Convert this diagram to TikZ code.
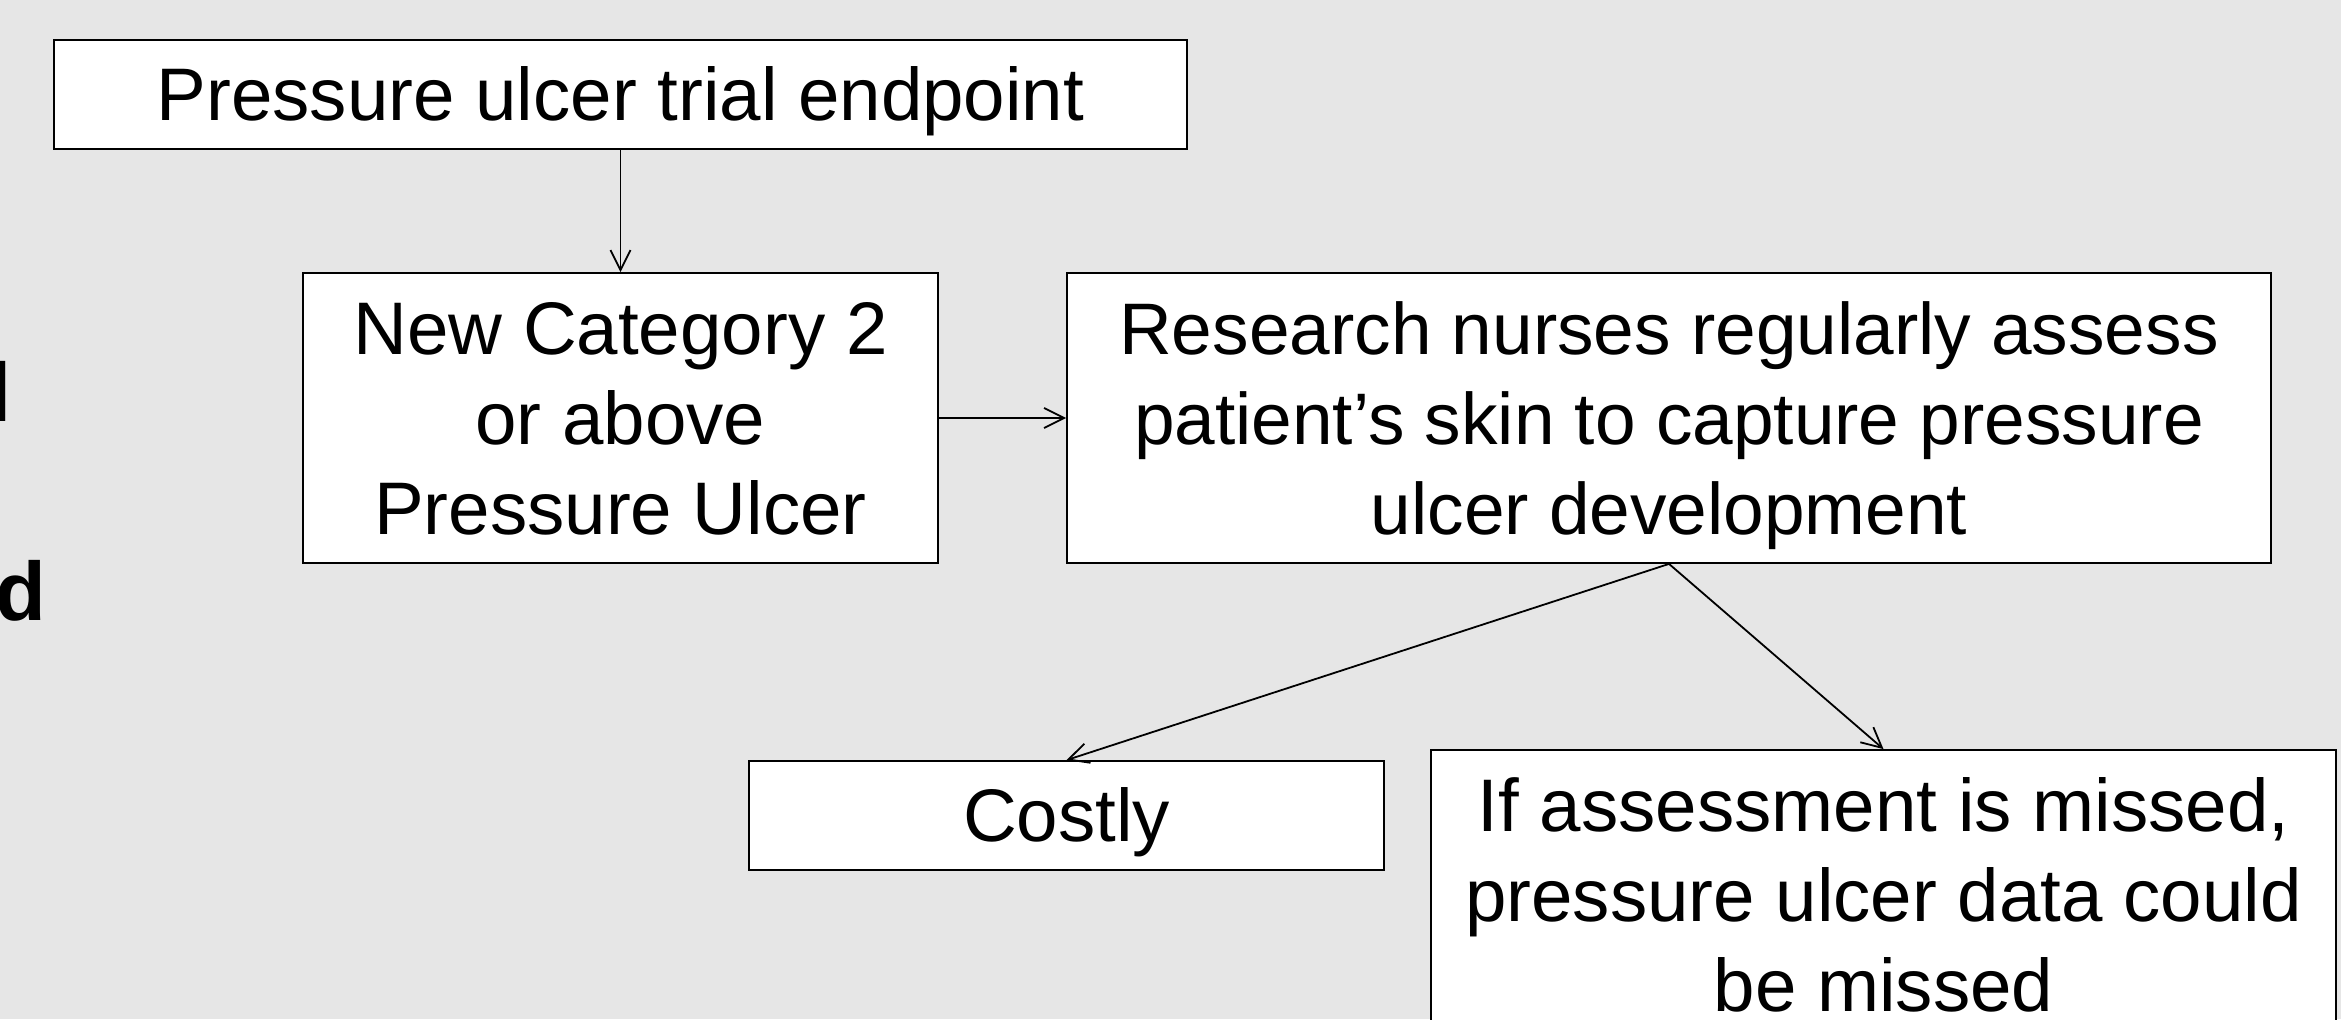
\documentclass[tikz,border=0pt]{standalone}
\usepackage{fontspec}
\setmainfont{Liberation Sans}
\usetikzlibrary{arrows.meta}
\definecolor{bgray}{RGB}{230,230,230}
\begin{document}
\begin{tikzpicture}[x=0.5pt,y=-0.5pt,
  box/.style={draw=black,line width=0.9pt,fill=white,align=center,inner sep=0pt,
    font=\fontsize{37.25}{45}\selectfont,
    % uniform first-line height so every box centres its text the same way
    execute at begin node={\rule{0pt}{33.7pt}}},
  oneline/.style={execute at end node={\rule[-7.9pt]{0pt}{0pt}}},
  multiline/.style={text depth=0pt},
  frag/.style={anchor=base east,inner sep=0pt,font=\bfseries\fontsize{41.5}{50}\selectfont},
  link/.style={line width=0.9pt,-{Straight Barb[length=10pt,width=10pt]}}]
\path[use as bounding box,fill=bgray] (0,0) rectangle (2341,1019);
\begin{scope}
\clip (0,0) rectangle (2341,1019);
% text running off the left edge
\node[frag] (fragl) at (12,421) {l};
\node[frag] (fragd) at (47,620) {d};
% boxes
\node[box,oneline,minimum width=566.5pt,minimum height=54.5pt] (top) at (620.5,94.5)
  {Pressure ulcer trial endpoint};
\node[box,multiline,minimum width=317.5pt,minimum height=145pt] (nc2) at (620.5,418)
  {New Category 2\\or above\\Pressure Ulcer};
\node[box,multiline,minimum width=602pt,minimum height=145pt,font=\fontsize{36.5}{45}\selectfont] (res) at (1669,418)
  {Research nurses regularly assess\\patient’s skin to capture pressure\\ulcer development};
\node[box,oneline,minimum width=317.5pt,minimum height=54.5pt] (cost) at (1066.5,815.5)
  {Costly};
\node[box,multiline,minimum width=452.5pt,minimum height=144pt] (miss) at (1883.5,894)
  {If assessment is missed,\\pressure ulcer data could\\be missed};
% connectors
\draw[link] (top.south) -- (nc2.north);
\draw[link] (nc2.east) -- (res.west);
\draw[link] (res.south) -- (cost.north);
\draw[link] (res.south) -- (miss.north);
\end{scope}
\end{tikzpicture}
\end{document}
